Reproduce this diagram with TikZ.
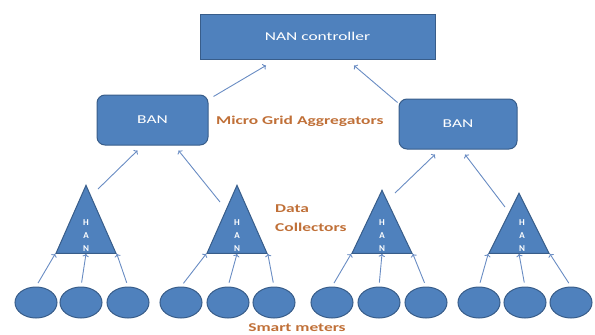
\documentclass[tikz,border=0pt]{standalone}
\usepackage{fontspec}
\setmainfont{Carlito}
\newfontfamily\widefont[FakeStretch=1.45]{Carlito}
\usepackage{tikz}
\usetikzlibrary{arrows.meta,positioning,shapes.geometric,calc}

\definecolor{nodeblue}{RGB}{79,129,189}
\definecolor{edgeblue}{RGB}{56,93,138}
\definecolor{linkblue}{RGB}{105,140,195}
\definecolor{tagorange}{RGB}{192,112,56}

\tikzset{
  netbox/.style={draw=edgeblue, fill=nodeblue, line width=1pt, text=white,
    font=\widefont\fontsize{12}{14}\selectfont, inner sep=0pt},
  collector/.style={isosceles triangle, shape border rotate=90,
    isosceles triangle stretches, minimum width=60pt, draw=edgeblue,
    fill=nodeblue, line width=1pt, inner sep=0pt, anchor=apex},
  meter/.style={ellipse, draw=edgeblue, fill=nodeblue, line width=1pt,
    minimum width=42pt, minimum height=31pt, inner sep=0pt},
  hanlbl/.style={text=white, font=\bfseries\fontsize{9}{13}\selectfont,
    align=center, inner sep=0pt},
  tag/.style={text=tagorange, font=\widefont\bfseries\fontsize{12}{19}\selectfont,
    align=left, inner sep=0pt},
  link/.style={draw=linkblue, line width=0.9pt, -{To[length=3pt]}},
}

\begin{document}
\begin{tikzpicture}[x=1pt, y=-1pt]
  \useasboundingbox (0,0) rectangle (595,335);
  % NAN controller
  \node[netbox, minimum width=235pt, minimum height=45pt] (nan)
    at (317.5,36.5) {NAN controller};
  % BAN aggregators
  \node[netbox, rounded corners=8pt, minimum width=111pt, minimum height=50pt]
    (banl) at (152.5,120) {BAN};
  \node[netbox, rounded corners=8pt, minimum width=118pt, minimum height=50pt]
    (banr) at (458,124) {BAN};
  \node[tag, anchor=base west] (aggr) at (216,124) {Micro Grid Aggregators};
  \draw[link] ($(banl.north east)+(5,2)$) -- ($(nan.south)+(-51.5,6)$);
  \draw[link] ($(banr.north west)+(-1,4)$) -- ($(nan.south)+(36.5,6)$);

  % HAN data collectors
  \node[collector, minimum height=68pt] (t1) at (86,184) {};
  \node[collector, minimum height=68pt] (t2) at (237,184) {};
  \node[collector, minimum height=63pt] (t3) at (382,189) {};
  \node[collector, minimum height=60pt] (t4) at (519,192) {};
  \node[hanlbl] (t1lbl) at (86,236) {H\\A\\N};
  \node[hanlbl] (t2lbl) at (237,236) {H\\A\\N};
  \node[hanlbl] (t3lbl) at (382,236) {H\\A\\N};
  \node[hanlbl] (t4lbl) at (522,236) {H\\A\\N};
  \node[tag, anchor=west] (coll) at (275,218) {Data\\Collectors};
  \draw[link] ($(t1.apex)+(12,5)$) -- ($(banl.south)+(-15,5)$);
  \draw[link] ($(t2.apex)+(-17,18)$) -- ($(banl.south)+(26,5)$);
  \draw[link] ($(t3.apex)+(13,4)$) -- ($(banr.south)+(-23,5)$);
  \draw[link] ($(t4.apex)+(-14,15)$) -- ($(banr.south)+(7,5)$);

  % Smart meters
  \node[meter] (m1) at (36,302.5) {};
  \node[meter] (m2) at (81,302.5) {};
  \node[meter] (m3) at (128,302.5) {};
  \node[meter] (m4) at (181,302.5) {};
  \node[meter] (m5) at (228,302.5) {};
  \node[meter] (m6) at (274,302.5) {};
  \node[meter] (m7) at (332,302.5) {};
  \node[meter] (m8) at (379,302.5) {};
  \node[meter] (m9) at (426,302.5) {};
  \node[meter] (m10) at (479,302.5) {};
  \node[meter] (m11) at (525,302.5) {};
  \node[meter] (m12) at (571,302.5) {};
  \node[tag, anchor=base] (smart) at (297,331.5) {Smart meters};
  \draw[link, shorten <=4pt] (m1.north) -- (t1.left corner);
  \draw[link, shorten <=4pt] (m2.north) -- (t1.south);
  \draw[link, shorten <=4pt] (m3.north) -- (t1.right corner);
  \draw[link, shorten <=4pt] (m4.north) -- (t2.left corner);
  \draw[link, shorten <=4pt] (m5.north) -- (t2.south);
  \draw[link, shorten <=4pt] (m6.north) -- (t2.right corner);
  \draw[link, shorten <=4pt] (m7.north) -- (t3.left corner);
  \draw[link, shorten <=4pt] (m8.north) -- (t3.south);
  \draw[link, shorten <=4pt] (m9.north) -- (t3.right corner);
  \draw[link, shorten <=4pt] (m10.north) -- (t4.left corner);
  \draw[link, shorten <=4pt] (m11.north) -- (t4.south);
  \draw[link, shorten <=4pt] (m12.north) -- (t4.right corner);
\end{tikzpicture}
\end{document}
